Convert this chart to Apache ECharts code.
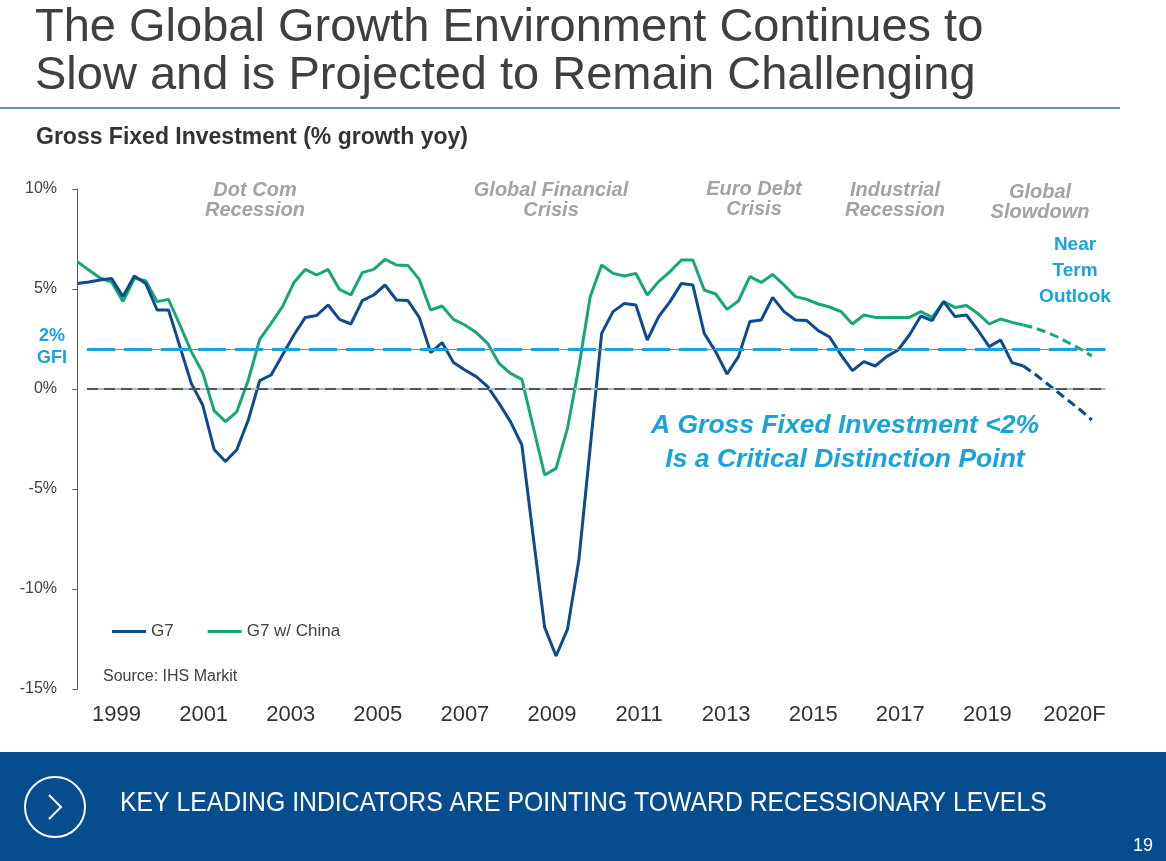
<!DOCTYPE html>
<html>
<head>
<meta charset="utf-8">
<title>Gross Fixed Investment</title>
<script src="https://cdn.jsdelivr.net/npm/echarts@6/dist/echarts.min.js"></script>
<style>
  html, body { margin: 0; padding: 0; background: #fff; }
  #chart { width: 1166px; height: 861px; }
</style>
</head>
<body>
<div id="chart"></div>
<script>
// x axis labels, one every two years (last is the forecast year)
const yearLabels = ['1999', '2001', '2003', '2005', '2007', '2009', '2011', '2013', '2015', '2017', '2019', '2020F']

// Gross Fixed Investment, % growth yoy (actuals)
const g7 = [
  5.28, 5.35, 5.45, 5.53, 4.62, 5.65, 5.28, 3.95, 3.95, 2.12,
  0.28, -0.8, -3.02, -3.63, -3.02, -1.55, 0.42, 0.7, 1.7, 2.7,
  3.58, 3.68, 4.2, 3.48, 3.25, 4.42, 4.7, 5.2, 4.45, 4.42,
  3.58, 1.82, 2.32, 1.32, 0.95, 0.62, 0.12, -0.72, -1.63, -2.8,
  -7.4, -11.92, -13.35, -12.02, -8.55, -2.9, 2.78, 3.87, 4.28, 4.2,
  2.45, 3.62, 4.37, 5.28, 5.2, 2.78, 1.87, 0.75, 1.62, 3.37,
  3.45, 4.58, 3.87, 3.45, 3.42, 2.92, 2.6, 1.7, 0.92, 1.37,
  1.15, 1.62, 1.95, 2.7, 3.65, 3.42, 4.37, 3.62, 3.7, 2.95,
  2.12, 2.45, 1.32, 1.15
]
const g7China = [
  6.37, 5.95, 5.55, 5.35, 4.37, 5.53, 5.42, 4.37, 4.48, 3.2,
  1.87, 0.82, -1.08, -1.63, -1.13, 0.45, 2.48, 3.28, 4.12, 5.32,
  5.98, 5.7, 5.98, 4.98, 4.7, 5.82, 5.98, 6.48, 6.2, 6.18,
  5.48, 3.95, 4.15, 3.48, 3.2, 2.82, 2.28, 1.28, 0.78, 0.48,
  -1.9, -4.3, -3.97, -1.97, 1.1, 4.62, 6.2, 5.78, 5.65, 5.78,
  4.7, 5.37, 5.87, 6.45, 6.45, 4.95, 4.75, 3.98, 4.4, 5.62,
  5.33, 5.73, 5.2, 4.62, 4.48, 4.25, 4.1, 3.87, 3.25, 3.7,
  3.58, 3.58, 3.58, 3.58, 3.87, 3.58, 4.37, 4.08, 4.18, 3.78,
  3.25, 3.5, 3.33, 3.2
]

// near term outlook (forecast periods after the last actual)
const g7Forecast = [0.75, 0.3, -0.15, -0.6, -1.05, -1.55]
const g7ChinaForecast = [3.05, 2.85, 2.6, 2.3, 2.0, 1.65]

const GFI_LEVEL = 2

const BLUE = '#0d4a8e'
const GREEN = '#16a779'
const CYAN = '#19a3db'
const GREY_NOTE = '#a3a3a3'
const FONT = '"Liberation Sans", Arial, sans-serif'

// reference lines run a little inside the plot area
const REF_FROM = 0.85
const REF_TO = 90.2

const toPoints = arr => arr.map((v, i) => [i, v])
const forecastPoints = (hist, fc) =>
  [[hist.length - 1, hist[hist.length - 1]]].concat(fc.map((v, i) => [hist.length + i, v]))

const refLine = (level, lineStyle) => [
  { coord: [REF_FROM, level], lineStyle: lineStyle },
  { coord: [REF_TO, level] }
]

const chart = echarts.init(document.getElementById('chart'))

// plain text helper for the slide annotations
function note(text, x, y, font, color, align, lineHeight) {
  return {
    type: 'text',
    silent: true,
    style: {
      text: text,
      x: x,
      y: y,
      font: font,
      fill: color,
      textAlign: align || 'center',
      textVerticalAlign: 'middle',
      lineHeight: lineHeight
    }
  }
}

const option = {
  animation: false,
  textStyle: { fontFamily: FONT },
  grid: { left: 73, top: 189, width: 1045, height: 500 },
  legend: {
    data: ['G7', 'G7 w/ China'],
    left: 107,
    top: 618,
    icon: 'rect',
    itemWidth: 34,
    itemHeight: 3,
    itemGap: 34,
    textStyle: { fontSize: 17, color: '#404040', fontFamily: FONT }
  },
  xAxis: [
    {
      type: 'value',
      min: -0.38,
      max: 91.3,
      show: false
    },
    {
      type: 'category',
      position: 'bottom',
      data: yearLabels,
      boundaryGap: true,
      axisLine: { show: false },
      axisTick: { show: false },
      axisLabel: { fontSize: 22, color: '#333', margin: 15, fontFamily: FONT }
    }
  ],
  yAxis: {
    type: 'value',
    min: -15,
    max: 10,
    interval: 5,
    splitLine: { show: false },
    axisLine: { show: true, lineStyle: { color: '#595959', width: 1 } },
    axisTick: { show: true, length: 5, lineStyle: { color: '#595959' } },
    axisLabel: { formatter: '{value}%', fontSize: 16, color: '#404040', margin: 16, fontFamily: FONT }
  },
  series: [
    {
      name: 'G7 w/ China',
      type: 'line',
      data: toPoints(g7China),
      showSymbol: false,
      color: GREEN,
      lineStyle: { width: 3, color: GREEN },
      z: 3
    },
    {
      name: 'G7 w/ China outlook',
      type: 'line',
      data: forecastPoints(g7China, g7ChinaForecast),
      showSymbol: false,
      color: GREEN,
      lineStyle: { width: 3, color: GREEN, type: [9, 5] },
      z: 3
    },
    {
      name: 'G7',
      type: 'line',
      data: toPoints(g7),
      showSymbol: false,
      color: BLUE,
      lineStyle: { width: 3, color: BLUE },
      z: 4,
      markLine: {
        silent: true,
        symbol: 'none',
        label: { show: false },
        data: [
          refLine(0, { color: '#9dbbdb', width: 2, type: 'solid' }),
          refLine(0, { color: '#555', width: 2, type: [11, 6] }),
          refLine(GFI_LEVEL, { color: '#5b8fc9', width: 1, type: 'solid' }),
          refLine(GFI_LEVEL, { color: CYAN, width: 3, type: [28, 9] })
        ]
      }
    },
    {
      name: 'G7 outlook',
      type: 'line',
      data: forecastPoints(g7, g7Forecast),
      showSymbol: false,
      color: BLUE,
      lineStyle: { width: 3, color: BLUE, type: [9, 5] },
      z: 4
    }
  ],
  graphic: [
    // slide heading
    note('The Global Growth Environment Continues to', 35, 28, '47px ' + FONT, '#3f3f3f', 'left'),
    note('Slow and is Projected to Remain Challenging', 35, 76, '47px ' + FONT, '#3f3f3f', 'left'),
    {
      type: 'line',
      silent: true,
      shape: { x1: 0, y1: 108, x2: 1120, y2: 108 },
      style: { stroke: '#2a64a4', lineWidth: 1.5 }
    },
    note('Gross Fixed Investment (% growth yoy)', 36, 138, 'bold 23px ' + FONT, '#333', 'left'),

    // period annotations
    note('Dot Com\nRecession', 255, 200, 'italic bold 20px ' + FONT, GREY_NOTE, 'center', 20),
    note('Global Financial\nCrisis', 551, 200, 'italic bold 20px ' + FONT, GREY_NOTE, 'center', 20),
    note('Euro Debt\nCrisis', 754, 199, 'italic bold 20px ' + FONT, GREY_NOTE, 'center', 20),
    note('Industrial\nRecession', 895, 200, 'italic bold 20px ' + FONT, GREY_NOTE, 'center', 20),
    note('Global\nSlowdown', 1040, 202, 'italic bold 20px ' + FONT, GREY_NOTE, 'center', 20),
    note('Near\nTerm\nOutlook', 1075, 271, 'bold 19px ' + FONT, CYAN, 'center', 26),
    note('2%\nGFI', 52, 347, 'bold 18px ' + FONT, CYAN, 'center', 22),
    note('A Gross Fixed Investment <2%\nIs a Critical Distinction Point', 845, 443, 'italic bold 26.5px ' + FONT, CYAN, 'center', 34),
    note('Source: IHS Markit', 103, 677, '16px ' + FONT, '#404040', 'left'),

    // bottom banner
    {
      type: 'rect',
      silent: true,
      shape: { x: 0, y: 752, width: 1166, height: 109 },
      style: { fill: '#054d8f' }
    },
    {
      type: 'circle',
      silent: true,
      shape: { cx: 55, cy: 807, r: 30 },
      style: { fill: 'none', stroke: '#fff', lineWidth: 2 }
    },
    {
      type: 'polyline',
      silent: true,
      shape: { points: [[49, 795], [61, 807], [49, 819]] },
      style: { fill: 'none', stroke: '#fff', lineWidth: 2 }
    },
    {
      type: 'text',
      silent: true,
      x: 120,
      y: 803,
      scaleX: 0.885,
      style: {
        text: 'KEY LEADING INDICATORS ARE POINTING TOWARD RECESSIONARY LEVELS',
        x: 0,
        y: 0,
        font: '28px ' + FONT,
        fill: '#fff',
        textAlign: 'left',
        textVerticalAlign: 'middle'
      }
    },
    note('19', 1143, 846, '18px ' + FONT, '#fff', 'center')
  ]
}

chart.setOption(option)
</script>
</body>
</html>
